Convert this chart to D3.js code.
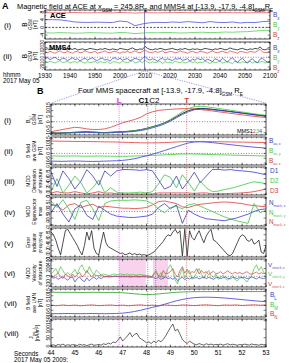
<!DOCTYPE html>
<html><head><meta charset="utf-8">
<script src="https://cdn.jsdelivr.net/npm/d3@7"></script>
<style>body{margin:0;background:#fff}svg{display:block}text{font-family:"Liberation Sans",Arial,sans-serif}</style>
</head><body><svg id="c" width="290" height="363"></svg>
<script>
// ---------------- DATA ----------------
// Panel A: minutes after 19:30 UT
const aceStepMin = 3;
const aceBx = [4.0,4.0,3.9,3.4,2.8,2.6,2.6,2.7,2.6,2.5,3.3,2.9,0.9,1.8,2.4,2.6,2.5,2.8,2.6,3.0,2.7,2.4,3.0,2.6,2.5,2.8,2.3,2.6,2.5,3.0,3.2];
const aceBy = [-2.8,-2.9,-2.7,-2.8,-3.0,-2.9,-2.7,-2.8,-2.9,-3.0,-2.6,-2.8,-3.2,-2.9,-2.7,-2.8,-2.6,-2.7,-2.9,-2.8,-2.6,-2.5,-2.7,-2.6,-2.4,-2.5,-2.3,-2.2,-1.9,-1.6,-1.5];
const aceBz = [7.6,7.6,7.5,7.6,7.7,7.6,7.5,7.6,7.6,7.5,7.7,7.6,7.4,7.6,7.6,7.5,7.6,7.6,7.7,7.6,7.6,7.5,7.6,7.6,7.7,7.6,7.6,7.5,7.6,7.6,7.6];
const mmsStepMin = 1;
const mmsBt = [16,17,15,18,16,15,17,19,16,15,17,16,18,15,16,17,15,16,18,17,16,15,17,16,18,16,15,17,16,15,18,17,16,15,17,19,16,15,17,16,22,18,16,15,17,16,18,17,15,16,17,18,16,15,17,16,18,16,15,17,16,17,15,16,18,17,16,15,17,16,18,17,15,16,19,17,16,15,17,18,16,15,17,16,18,17,21,16,15,17,16];
const mmsBz = [11,9,12,10,8,11,13,10,9,12,10,8,11,12,9,10,13,11,9,10,12,8,10,11,13,10,9,11,12,10,8,11,10,12,9,11,13,10,9,12,15,11,10,9,12,10,11,13,9,10,12,11,9,10,13,11,10,8,11,12,10,9,12,11,10,8,11,13,10,9,11,12,10,9,13,11,10,8,12,11,10,9,12,11,10,13,16,11,9,10,12];
const mmsBx = [-3,-1,-5,-2,0,-4,-6,-2,-3,-7,-4,-1,-5,-3,-8,-4,-2,-6,-3,-1,-5,-7,-3,-2,-6,-4,-8,-3,-1,-5,-2,-6,-4,-3,-7,-5,-2,-4,-6,-3,2,-4,-6,-3,-5,-8,-4,-2,-6,-3,-5,-7,-3,-4,-2,-6,-5,-3,-8,-4,-6,-2,-5,-3,-7,-4,-6,-9,-3,-5,-8,-2,-6,-10,-4,-1,-7,-11,-5,-2,-8,-12,-6,-3,-9,-11,-4,-2,-7,-10,-8];
const mmsBy = [-9,-11,-8,-10,-12,-9,-7,-11,-10,-8,-12,-10,-9,-11,-7,-10,-12,-9,-11,-10,-8,-12,-9,-10,-11,-8,-13,-10,-9,-11,-12,-8,-10,-11,-9,-7,-12,-10,-8,-11,-6,-10,-12,-9,-11,-10,-8,-13,-9,-11,-10,-12,-8,-10,-11,-9,-12,-10,-8,-11,-9,-12,-10,-11,-8,-10,-13,-9,-11,-10,-8,-12,-10,-9,-11,-13,-8,-10,-12,-9,-11,-10,-8,-12,-9,-11,-10,-8,-12,-10,-11];
const hhmmTicks = ["1930","1940","1950","2000","2010","2020","2030","2040","2050","2100"];

// Panel B: seconds after 2009:00
const tB0 = 44, dtS = 0.25, dtF = 0.1;
const secTicks = [44,45,46,47,48,49,50,51,52,53];
const events = [{n:"L",t:46.85},{n:"C1",t:48.05},{n:"C2",t:48.38},{n:"T",t:49.68}];
const pinkSpans = [[46.85,47.97],[48.27,48.9]];
// (i) B GSM each spacecraft (0.25 s)
const b1 = [-10,-10.2,-10,-9.8,-9.5,-9.2,-9,-9.3,-9.6,-9.8,-9.5,-9.2,-9,-8.6,-8,-7.2,-6,-4.5,-3,-1,1.5,4.5,7.5,10,11.5,12,11.8,11.3,10.6,10,9.3,8.6,7.9,7.2,6.5,5.8,5.2];
const b2 = [-9,-8,-7,-6,-5,-5.5,-6.5,-7,-7,-6.5,-5,-3,-1,0.5,2,4,7,9,10.2,10.8,11.2,11.5,11.8,11.8,11.5,11,10.4,9.7,9,8.3,7.6,6.9,6.2,5.5,4.9,4.3,3.8];
const b3 = [-10.3,-10.4,-10.2,-10,-9.8,-9.5,-9.3,-9.5,-9.8,-10,-9.8,-9.5,-9.2,-8.8,-8.2,-7.4,-6.2,-4.8,-3.2,-1,2,5.5,9,12,13.5,14,13.5,12.8,12,11.2,10.4,9.6,8.8,8,7.2,6.5,5.8];
const b4 = [-10.5,-10.6,-10.4,-10.2,-10,-9.8,-9.6,-9.8,-10,-10.2,-10,-9.7,-9.5,-9.2,-8.8,-8,-7,-5.5,-4,-2,0.5,3.5,6.5,9,10.8,11.5,11.3,10.8,10.2,9.6,9,8.3,7.6,6.9,6.2,5.5,5];
// (ii) averaged B GSM
const bavX = [-8,-8.1,-8.2,-8,-7.9,-8,-8.2,-8.3,-8.2,-8,-7.8,-7.6,-7.2,-6.5,-5.5,-4,-2.5,-0.8,1,3,5,7,9,10.8,11.8,12,11.7,11.2,10.5,9.8,9.1,8.4,7.7,7.1,6.5,6,5.5];
const bavY = [-2.6,-2.7,-2.8,-2.7,-2.6,-2.8,-2.9,-2.8,-2.7,-2.8,-2.9,-3,-3,-2.9,-2.7,-2.5,-2.3,-2,-1.8,-1.5,-1.2,-0.9,-0.6,-0.5,-0.6,-0.8,-1,-1.2,-1.4,-1.5,-1.7,-1.9,-2,-2.2,-2.4,-2.5,-2.7];
const bavZ = [12.8,12.7,12.6,12.5,12.4,12.4,12.3,12.2,12.1,12,11.9,11.8,11.6,11.4,11.2,11,10.9,10.9,11,11.2,11.5,11.8,12.1,12.3,12.4,12.4,12.3,12.2,12.1,12,11.9,11.8,11.7,11.6,11.5,11.4,11.3];
// (iii) MDD dimension
const dim1 = [0.85,0.3,0.9,0.6,0.2,0.5,0.95,0.7,0.35,0.9,0.7,0.9,0.95,0.95,0.94,0.92,0.95,0.9,0.55,0.2,0.3,0.7,0.2,0.5,0.85,0.45,0.7,0.95,0.96,0.93,0.95,0.92,0.9,0.88,0.85,0.8,0.75];
const dim2 = [0.1,0.6,0.05,0.35,0.7,0.45,0.04,0.25,0.55,0.06,0.25,0.08,0.05,0.05,0.06,0.08,0.05,0.1,0.4,0.75,0.65,0.25,0.75,0.45,0.12,0.5,0.25,0.1,0.12,0.18,0.22,0.28,0.35,0.42,0.48,0.45,0.4];
const dim3 = [0.05,0.1,0.05,0.05,0.1,0.05,0.01,0.05,0.1,0.04,0.05,0.02,0.01,0.01,0.01,0.01,0.01,0.01,0.05,0.05,0.05,0.05,0.05,0.05,0.03,0.05,0.05,0.02,0.02,0.02,0.03,0.04,0.05,0.07,0.1,0.15,0.2];
// (iv) MDD eigenvector max
const nMaxX = [-0.1,0.6,-0.2,-0.8,0.2,0.5,-0.3,-0.6,0.4,0.1,-0.2,-0.35,-0.4,-0.45,-0.45,-0.4,-0.35,-0.2,0.3,0.6,0.2,0.5,-0.9,0.1,-0.2,-0.4,-0.55,-0.6,-0.65,-0.7,-0.6,-0.5,-0.35,-0.2,0,0.15,0.2];
const nMaxY = [0.8,0.3,0.9,0.2,-0.6,0.7,0.85,0.2,-0.7,0.6,0.8,0.85,0.85,0.85,0.88,0.85,0.8,0.6,0.2,-0.1,0.3,0.4,0.2,0.5,0.6,0.4,0.2,0,-0.2,-0.4,-0.55,-0.7,-0.8,-0.9,0.6,-0.1,0.1];
const nMaxZ = [0.5,0.45,0.1,0.5,0.6,0.3,0.45,0.55,0.3,0.4,0.35,0.3,0.25,0.25,0.22,0.25,0.3,0.5,0.75,0.8,0.7,0.6,0.35,0.3,0.45,0.55,0.6,0.65,0.7,0.72,0.7,0.65,0.6,0.5,0.45,0.4,0.35];
// (v) error indicator (0.1 s)
const errInd = [0.9,0.8,0.6,0.3,0.05,0.5,0.95,1.0,0.85,0.7, 0.55,0.4,0.2,0.05,0.4,0.9,0.6,0.95,0.3,0.1, 0.05,0.5,0.9,0.5,0.35,0.3,0.25,0.2,0.15,0.1, 0.12,0.05,0.08,0.12,0.06,0.1,0.05,0.08,0.04,0.06, 0.02,0.05,0.1,0.15,0.25,0.35,0.45,0.55,0.7,0.8, 0.75,0.9,1.0,0.85,0.95,0.0,1.0,0.0,0.95,0.7, 0.6,0.8,0.95,0.7,0.5,0.75,0.9,1.0,0.6,0.55, 0.45,0.35,0.25,0.15,0.05,0.02,0.1,0.3,0.5,0.7, 0.8,0.75,0.6,0.55,0.65,0.45,0.5,0.6,0.15,0.1, 0.4];
// (vi) structure velocity (0.1 s)
const vStX = [-20,-50,-30,-80,-40,-10,-60,-100,-40,-20, -150,-60,-20,-100,-140,-40,-120,-60,-20,-80, -30,-60,-20,-10,-20,-15,-10,-5,-10,-15, -10,-15,-10,-20,-15,-10,-15,-20,-10,-15, -20,-30,-10,-40,-60,-30,-80,-50,-20,-60, -40,-80,-30,-120,-60,-20,-90,-40,-70,-30, -50,-30,-70,-40,-20,-60,-30,-50,-80,-40, -30,-60,-40,-20,-50,-70,-30,-40,-60,-20, -40,-30,-60,-50,-20,-40,-70,-30,-50,-60, -40];
const vStY = [50,120,200,80,250,150,40,100,30,90, 180,60,220,300,150,80,250,120,40,160, 100,30,60,40,20,30,60,50,40,60, 50,40,60,30,50,40,30,50,40,30, 20,0,-40,80,150,-20,100,-60,50,200, 300,150,-100,-200,50,200,-50,100,150,-80, -20,100,200,50,-60,80,150,20,-40,60, -80,-30,30,-60,-100,-40,20,-80,-120,-50, -30,-80,-150,-60,20,200,300,150,250,100, 50];
const vStZ = [30,-20,40,80,0,-60,50,20,-40,60, -30,40,100,-20,30,150,60,-10,40,20, 10,30,0,-10,5,-5,0,10,-5,0, 5,-5,0,5,-10,0,5,-5,0,5, 0,10,-20,40,100,20,-30,150,60,80, 120,200,50,-20,150,250,80,180,60,120, 100,200,60,150,80,120,40,90,130,70, 80,120,60,100,140,90,60,110,70,100, 60,90,120,70,50,80,110,60,90,70, 80];
// (vii) averaged B in LMN (0.25 s)
const bL = [-8.5,-8.6,-8.5,-8.4,-8.5,-8.6,-8.5,-8.4,-8.5,-8.6,-8.5,-8.3,-8,-7.3,-6.3,-5,-3.5,-2,-0.5,1.2,3,4.8,6.2,7.3,8,8.4,8.5,8.4,8.1,7.7,7.2,6.6,6,5.4,4.8,4.3,3.8];
const bM = [13.6,13.6,13.5,13.6,13.5,13.4,13.5,13.6,13.5,13.4,13.5,13.4,13.1,12.6,12,11.5,11.2,11.4,11.9,12.5,13.1,13.6,13.9,14.1,14.2,14.3,14.3,14.3,14.4,14.4,14.3,14.3,14.4,14.4,14.3,14.3,14.4];
const bN = [0.2,-0.3,0.4,-0.2,0.3,-0.4,0.2,0.5,-0.3,0.1,0.4,-0.2,0.3,-0.4,0.2,0.6,-0.2,0.3,-0.5,0.4,0.1,-0.3,0.5,0.2,-0.2,0.3,0.6,0.1,-0.3,0.4,0.2,0.5,-0.1,0.3,0.6,0.2,0.4];
// (viii) perpendicular current density (0.1 s)
const jPerp = [5,8,3,10,6,12,4,8,5,9, 7,4,11,6,9,3,8,12,5,7, 10,6,14,9,18,12,25,20,35,55, 30,45,60,80,55,70,75,50,40,30, 20,25,15,30,20,35,25,40,60,85, 110,130,90,100,70,40,25,15,30,20, 12,8,15,10,6,14,9,12,7,10, 8,12,6,10,14,7,11,9,5,10, 7,12,9,6,13,8,10,5,11,8, 9];

// ---------------- DRAWING ----------------
const COL = {blue:"#3a3ad8", green:"#3cc83c", red:"#e03a3a", black:"#000", mag:"#dd3add", gray:"#777"};
const svg = d3.select("#c");
svg.append("rect").attr("width",290).attr("height",363).attr("fill","#fff");
let clipId = 0;

function rich(sel, x, y, parts, size, opts={}) {
  const t = sel.append("text").attr("x",x).attr("y",y).attr("font-size",size);
  if (opts.anchor) t.attr("text-anchor",opts.anchor);
  if (opts.fill) t.attr("fill",opts.fill);
  if (opts.weight) t.attr("font-weight",opts.weight);
  if (opts.rotate) t.attr("transform",`rotate(-90,${x},${y})`);
  const sf = opts.subScale || 0.68;
  parts.forEach(p => {
    if (typeof p === "string") { t.append("tspan").text(p); }
    else {
      const s = t.append("tspan").text(p.t);
      if (p.sub) s.attr("baseline-shift","sub").attr("font-size",size*sf);
      if (p.fill) s.attr("fill",p.fill);
      if (p.weight) s.attr("font-weight",p.weight);
    }
  });
  return t;
}

function makePanel(o) {
  const g = svg.append("g");
  const x = d3.scaleLinear().domain(o.xdom).range([o.x0,o.x1]);
  const y = d3.scaleLinear().domain(o.ydom).range([o.y1,o.y0]);
  const id = "cp"+(clipId++);
  svg.append("clipPath").attr("id",id).append("rect").attr("x",o.x0).attr("y",o.y0).attr("width",o.x1-o.x0).attr("height",o.y1-o.y0);
  const bg = g.append("g");
  const data = g.append("g").attr("clip-path",`url(#${id})`);
  const ax = g.append("g");
  if (o.zero) data.append("line").attr("x1",o.x0).attr("x2",o.x1).attr("y1",y(0)).attr("y2",y(0))
      .attr("stroke",o.zeroColor||"#555").attr("stroke-width",0.7).attr("stroke-dasharray",o.zeroDash||"1,1.6");
  ax.append("rect").attr("x",o.x0).attr("y",o.y0).attr("width",o.x1-o.x0).attr("height",o.y1-o.y0)
    .attr("fill","none").attr("stroke","#000").attr("stroke-width",0.7);
  const tk = (v,len)=>{ [[o.x0,o.x0+len],[o.x1,o.x1-len]].forEach(([a,b])=>ax.append("line").attr("x1",a).attr("x2",b).attr("y1",y(v)).attr("y2",y(v)).attr("stroke","#000").attr("stroke-width",0.5)); };
  (o.yminor||[]).forEach(v=>tk(v,1.3));
  o.yticks.forEach(v=>{ tk(v,2.4);
    ax.append("text").attr("x",o.x0-1.2).attr("y",y(v)).attr("font-size",o.tickSize||5.2).attr("text-anchor","middle")
      .attr("transform",`rotate(-90,${o.x0-1.2},${y(v)})`).text(o.yfmt?o.yfmt(v):v);
  });
  const xt = (v,len)=>{ [[o.y1,o.y1-len],[o.y0,o.y0+len]].forEach(([a,b])=>ax.append("line").attr("x1",x(v)).attr("x2",x(v)).attr("y1",a).attr("y2",b).attr("stroke","#000").attr("stroke-width",0.5)); };
  (o.xminor||[]).forEach(v=>xt(v,1.3));
  (o.xticks||[]).forEach(v=>xt(v,2.4));
  if (o.xlabels) o.xticks.forEach((v,i)=>ax.append("text").attr("x",x(v)).attr("y",o.y1+7.5).attr("font-size",6.3).attr("text-anchor","middle").text(o.xlabels[i]));
  if (o.ylab) {
    const yc = (o.y0+o.y1)/2;
    o.ylab.forEach((l,i)=>{ rich(ax, o.ylabX[i], yc, l.parts, l.size||5, {anchor:"middle",rotate:true}); });
  }
  if (o.roman) ax.append("text").attr("x",o.romanX||4).attr("y",(o.y0+o.y1)/2+3).attr("font-size",8).text(o.roman);
  return {g,x,y,data,bg,ax,o};
}
function series(p, t0, dt, vals, color, w) {
  p.data.append("path").datum(vals).attr("fill","none").attr("stroke",color).attr("stroke-width",w||0.8)
    .attr("stroke-linejoin","round")
    .attr("d", d3.line().x((d,i)=>p.x(t0+i*dt)).y(d=>p.y(d)));
}
function legend(items, x, ys, size, subScale) {
  items.forEach((it,i)=>rich(svg, x, ys[i], it.parts, size||7, {fill:it.c, subScale}));
}

// ======== Panel A ========
rich(svg, 2, 9, ["A"], 9, {weight:"bold"});
rich(svg, 17, 9, ["Magnetic field at ACE at x",{t:"GSM",sub:true}," = 245.8R",{t:"E",sub:true}," and MMS4 at [-13.9, -17.9, -4.8]",{t:"GSM",sub:true},"R",{t:"E",sub:true}], 7.4, {subScale:0.62});

const AX0 = 45, AX1 = 270;
const aTicks = d3.range(0,91,10), aMinor = d3.range(0,91,2);
const bLab = [{parts:["B"],size:6.5},{parts:["GSM"],size:4.8},{parts:["[nT]"],size:4.8}];
const pA1 = makePanel({x0:AX0,x1:AX1,y0:10,y1:39,xdom:[0,90],ydom:[-6,9],yticks:[-4,0,4,8],yminor:[-2,2,6],
  xticks:aTicks,xminor:aMinor,zero:true,zeroColor:"#000",zeroDash:"2,1.5",ylab:bLab,ylabX:[27,32,37],roman:"(i)",romanX:4});
series(pA1,0,aceStepMin,aceBz,"#e85a5a",0.8);
series(pA1,0,aceStepMin,aceBx,"#5050e0",0.8);
series(pA1,0,aceStepMin,aceBy,"#55d055",0.8);
pA1.ax.append("text").attr("x",50).attr("y",18).attr("font-size",7.5).attr("font-weight","bold").text("ACE");
legend([{parts:["B",{t:"x",sub:true}],c:COL.blue},{parts:["B",{t:"y",sub:true}],c:COL.green},{parts:["B",{t:"z",sub:true}],c:COL.red}],273,[17,27,37],6.5);

const pA2 = makePanel({x0:AX0,x1:AX1,y0:42,y1:70,xdom:[0,90],ydom:[-26,31],yticks:[-20,-10,0,10,20,30],
  xticks:aTicks,xminor:aMinor,xlabels:hhmmTicks,zero:true,ylab:bLab,ylabX:[27,32,37],roman:"(ii)",romanX:3,tickSize:4.6});
series(pA2,0,mmsStepMin,mmsBy,COL.green,0.7);
series(pA2,0,mmsStepMin,mmsBx,COL.blue,0.7);
series(pA2,0,mmsStepMin,mmsBz,COL.red,0.7);
series(pA2,0,mmsStepMin,mmsBt,"#000",0.7);
pA2.ax.append("text").attr("x",49).attr("y",49.5).attr("font-size",7.5).attr("font-weight","bold").text("MMS4");
legend([{parts:["B",{t:"x",sub:true}],c:COL.blue},{parts:["B",{t:"y",sub:true}],c:COL.green},{parts:["B",{t:"z",sub:true}],c:COL.red}],273,[50,60,70],6.5);
svg.append("text").attr("x",3).attr("y",77).attr("font-size",6.3).text("hhmm");
svg.append("text").attr("x",3).attr("y",83).attr("font-size",6.3).text("2017 May 05");
const tEv = 39 + 48/60;
svg.append("line").attr("x1",pA1.x(tEv)).attr("x2",pA1.x(tEv)).attr("y1",10).attr("y2",70).attr("stroke","#4a4ae0").attr("stroke-width",0.7);

// ======== Panel B ========
const BX0 = 51, BX1 = 266;
rich(svg, 37, 94, ["B"], 9, {weight:"bold"});
rich(svg, 78, 92.5, ["Four MMS spacecraft at [-13.9, -17.9, -4.8]",{t:"GSM",sub:true}," R",{t:"E",sub:true}], 7.6, {subScale:0.62});
svg.append("line").attr("x1",pA1.x(39+44/60)).attr("y1",71).attr("x2",BX0).attr("y2",103).attr("stroke","#5555e0").attr("stroke-width",0.6).attr("stroke-dasharray","1.2,1.2");
svg.append("line").attr("x1",pA1.x(39+53/60)).attr("y1",71).attr("x2",BX1).attr("y2",103).attr("stroke","#5555e0").attr("stroke-width",0.6).attr("stroke-dasharray","1.2,1.2");

const bt = secTicks, bmin = d3.range(44,53.01,0.2);
const common = {x0:BX0,x1:BX1,xdom:[44,53],xticks:bt,xminor:bmin};
const f1 = d3.format(".1f");
const P = [];
P[0] = makePanel({...common,y0:104,y1:135,ydom:[-12,16],yticks:[-10,-5,0,5,10,15],zero:true,roman:"(i)",
  ylab:[{parts:["B",{t:"L",sub:true},","],size:5.5},{parts:["GSM"]},{parts:["[nT]"]}],ylabX:[30,36,42]});
P[1] = makePanel({...common,y0:137,y1:165,ydom:[-12,17],yticks:[-10,-5,0,5,10,15],zero:true,roman:"(ii)",
  ylab:[{parts:["B field"]},{parts:["ave GSM"]},{parts:["[nT]"]}],ylabX:[30,36,42]});
P[2] = makePanel({...common,y0:167,y1:195,ydom:[-0.03,1.05],yticks:[0,0.2,0.4,0.6,0.8,1.0],yfmt:f1,roman:"(iii)",tickSize:4.6,
  ylab:[{parts:["MDD"]},{parts:["Dimension"]},{parts:["of structure"]}],ylabX:[30,36,42]});
P[3] = makePanel({...common,y0:197,y1:226,ydom:[-1.1,1.1],yticks:[-1,-0.5,0,0.5,1],yfmt:f1,zero:true,roman:"(iv)",tickSize:4.8,
  ylab:[{parts:["MDD"]},{parts:["Eigenvector"]},{parts:["max"]}],ylabX:[30,36,42]});
P[4] = makePanel({...common,y0:228,y1:257,ydom:[-0.03,1.05],yticks:[0,0.2,0.4,0.6,0.8,1.0],yfmt:f1,roman:"(v)",tickSize:4.6,
  ylab:[{parts:["Error"]},{parts:["indicator"]},{parts:["|∇·B|/|∇×B|"],size:4.4}],ylabX:[30,36,42]});
P[5] = makePanel({...common,y0:259,y1:287,ydom:[-280,450],yticks:[-200,0,200,400],zero:true,roman:"(vi)",tickSize:4.8,
  ylab:[{parts:["MDD"]},{parts:["Velocity"]},{parts:["of structure"]}],ylabX:[30,36,42]});
P[6] = makePanel({...common,y0:289,y1:317,ydom:[-12,17],yticks:[-10,-5,0,5,10,15],zero:true,roman:"(vii)",
  ylab:[{parts:["B field"]},{parts:["ave LMN"]},{parts:["[nT]"]}],ylabX:[30,36,42]});
P[7] = makePanel({...common,y0:319,y1:347,ydom:[-5,160],yticks:[0,50,100,150],roman:"(viii)",xlabels:secTicks.map(String),
  ylab:[{parts:["J",{t:"tot, ⊥",sub:true}],size:5.5},{parts:["[nA/m²]"]}],ylabX:[33,39]});

pinkSpans.forEach(([a,b])=>P[5].bg.append("rect").attr("x",P[5].x(a)).attr("width",P[5].x(b)-P[5].x(a)).attr("y",259).attr("height",28).attr("fill","#f9d3ee"));

series(P[0],tB0,dtS,b1,"#000",0.8);
series(P[0],tB0,dtS,b2,COL.red,0.8);
series(P[0],tB0,dtS,b3,COL.green,0.8);
series(P[0],tB0,dtS,b4,COL.blue,0.8);
rich(P[0].ax, 262, 132.5, ["MMS1",{t:"2",fill:COL.red},{t:"3",fill:COL.green},{t:"4",fill:COL.blue}], 5.5, {anchor:"end"});

series(P[1],tB0,dtS,bavY,COL.green);
series(P[1],tB0,dtS,bavX,COL.blue);
series(P[1],tB0,dtS,bavZ,COL.red);

series(P[2],tB0,dtS,dim3,COL.red);
series(P[2],tB0,dtS,dim2,COL.green);
series(P[2],tB0,dtS,dim1,COL.blue);

series(P[3],tB0,dtS,nMaxZ,COL.red);
series(P[3],tB0,dtS,nMaxY,COL.green);
series(P[3],tB0,dtS,nMaxX,COL.blue);

series(P[4],tB0,dtF,errInd,"#222",0.8);

series(P[5],tB0,dtF,vStY,COL.green,0.7);
series(P[5],tB0,dtF,vStX,COL.blue,0.7);
series(P[5],tB0,dtF,vStZ,COL.red,0.7);

series(P[6],tB0,dtS,bM,"#2a9a2a");
series(P[6],tB0,dtS,bL,COL.blue);
series(P[6],tB0,dtS,bN,COL.red);

series(P[7],tB0,dtF,jPerp,"#222",0.7);

const sub = (b,s)=>[b,{t:s,sub:true}];
legend([{parts:sub("B","av, x"),c:COL.blue},{parts:sub("B","av, y"),c:COL.green},{parts:sub("B","av, z"),c:COL.red}],269,[143,153,163],6.5,0.55);
legend([{parts:["D1"],c:COL.blue},{parts:["D2"],c:COL.green},{parts:["D3"],c:COL.red}],270,[173,183,193],6.5);
legend([{parts:sub("N","max k, x"),c:COL.blue},{parts:sub("N","max k, y"),c:COL.green},{parts:sub("N","max k, z"),c:COL.red}],269,[205,215,224],6.3,0.5);
legend([{parts:sub("V","struct k, x"),c:COL.blue},{parts:sub("V","struct k, y"),c:COL.green},{parts:sub("V","struct k, z"),c:COL.red}],268,[267,276,286],6.2,0.47);
legend([{parts:sub("B","L"),c:COL.blue},{parts:sub("B","M"),c:COL.green},{parts:sub("B","N"),c:COL.red}],270,[297,307,316],6.5);

const xB = P[0].x;
events.forEach(e=>{
  const col = e.n==="L"?COL.mag:(e.n==="T"?COL.red:"#666");
  svg.append("line").attr("x1",xB(e.t)).attr("x2",xB(e.t)).attr("y1",104).attr("y2",347).attr("stroke",col).attr("stroke-width",0.7).attr("stroke-dasharray","1,1.2");
});
svg.append("text").attr("x",xB(46.85)).attr("y",103).attr("text-anchor","middle").attr("font-size",8).attr("font-weight","bold").attr("fill",COL.mag).text("L");
svg.append("text").attr("x",xB(48.05)+1).attr("y",103).attr("text-anchor","end").attr("font-size",8).attr("font-weight","bold").text("C1");
svg.append("text").attr("x",xB(48.05)+1.5).attr("y",103).attr("font-size",8).text("C2");
svg.append("text").attr("x",xB(49.68)).attr("y",103).attr("text-anchor","middle").attr("font-size",8).attr("font-weight","bold").attr("fill",COL.red).text("T");

svg.append("text").attr("x",14).attr("y",356).attr("font-size",6.3).text("Seconds");
svg.append("text").attr("x",14).attr("y",362).attr("font-size",6.3).text("2017 May 05 2009:");
</script></body></html>
